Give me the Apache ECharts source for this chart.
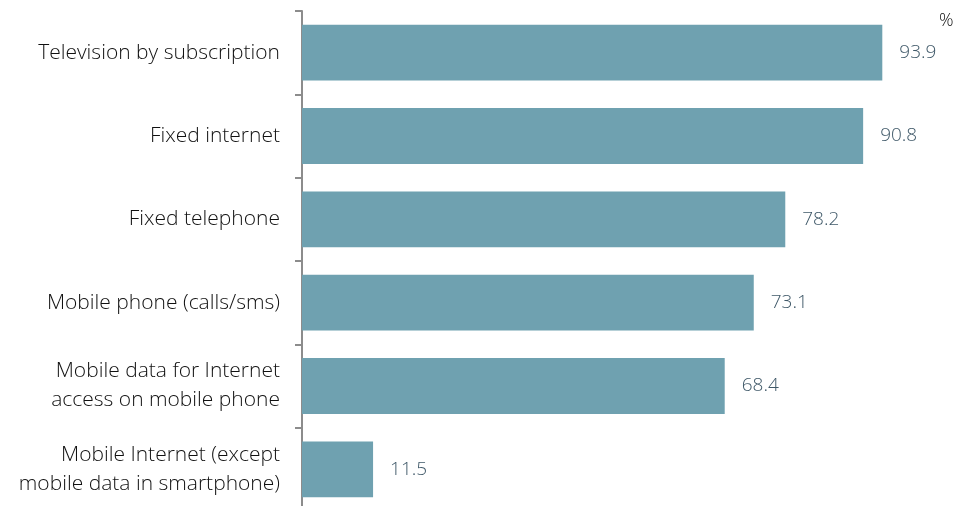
<!DOCTYPE html>
<html>
<head>
<meta charset="utf-8">
<script src="https://cdn.jsdelivr.net/npm/echarts@6/dist/echarts.min.js"></script>
<style>
  html, body { margin: 0; padding: 0; background: #fff; }
  #chart { width: 955px; height: 506px; }
</style>
</head>
<body>
<div id="chart"></div>
<script>
// categories, top to bottom
const categories = [
  'Television by subscription',
  'Fixed internet',
  'Fixed telephone',
  'Mobile phone (calls/sms)',
  'Mobile data for Internet\naccess on mobile phone',
  'Mobile Internet (except\nmobile data in smartphone)'
]
const values = [93.9, 90.8, 78.2, 73.1, 68.4, 11.5]

const chart = echarts.init(document.getElementById('chart'))

const option = {
  animation: false,
  grid: {
    left: 302,
    width: 618,
    top: 11,
    height: 500,
    outerBoundsMode: 'none'
  },
  xAxis: {
    type: 'value',
    min: 0,
    max: 100,
    show: false
  },
  yAxis: {
    type: 'category',
    inverse: true,
    data: categories,
    axisLine: { lineStyle: { color: '#8c8c8c', width: 2 } },
    axisTick: { show: true, length: 7, lineStyle: { color: '#8c8c8c', width: 2 } },
    axisLabel: {
      color: '#111',
      fontFamily: 'Open Sans',
      fontWeight: 300,
      fontSize: 21,
      lineHeight: 29,
      margin: 22,
      align: 'right'
    }
  },
  series: [
    {
      type: 'bar',
      data: values,
      barCategoryGap: '33%',
      itemStyle: { color: '#6fa1b0' },
      label: {
        show: true,
        position: 'right',
        distance: 17,
        color: '#3f5868',
        fontFamily: 'Open Sans',
        fontWeight: 300,
        fontSize: 19
      }
    }
  ],
  graphic: [
    {
      type: 'text',
      left: 939,
      top: 12,
      style: { text: '%', fill: '#111', font: '300 18px "Open Sans"' }
    }
  ]
}

chart.setOption(option)
</script>
</body>
</html>
